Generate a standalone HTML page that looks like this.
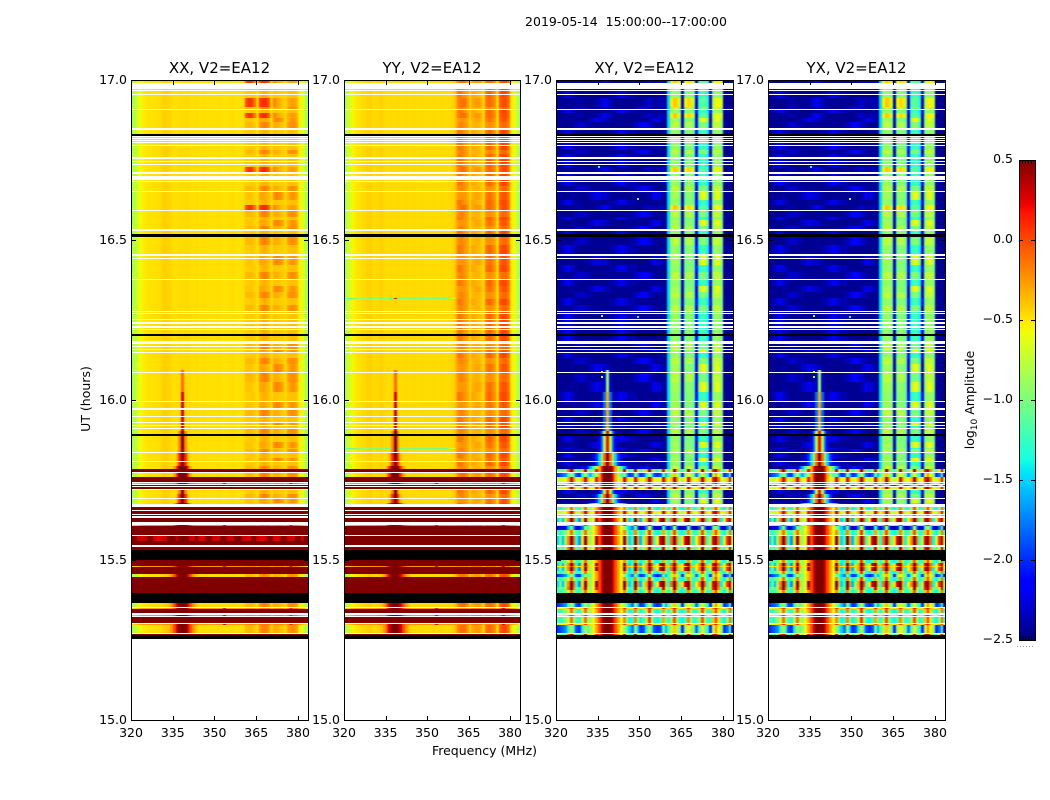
<!DOCTYPE html>
<html lang="en">
<head>
<meta charset="utf-8">
<title>2019-05-14 waterfall chart</title>
<style>
html,body{margin:0;padding:0;background:#fff;width:1050px;height:800px;overflow:hidden}
svg{display:block;font-family:"DejaVu Sans","Liberation Sans",sans-serif;fill:#000}
</style>
</head>
<body>
<svg id="chart" xmlns="http://www.w3.org/2000/svg" width="1050" height="800" viewBox="0 0 1050 800">
  <defs>
    <filter id="channel-smooth" filterUnits="userSpaceOnUse" x="100" y="60" width="900" height="680" color-interpolation-filters="sRGB">
      <feGaussianBlur stdDeviation="0.8 0"/>
    </filter>
  </defs>
  <rect x="0" y="0" width="1050" height="800" fill="#fff"/>
  <text x="626" y="26" font-size="12.500" text-anchor="middle" xml:space="preserve">2019-05-14  15:00:00--17:00:00</text>
  <g id="panels"></g>
  <text x="484.500" y="755" font-size="12.500" text-anchor="middle">Frequency (MHz)</text>
  <text transform="translate(90 399) rotate(-90)" font-size="12.500" text-anchor="middle">UT (hours)</text>
  <g id="colorbar"></g>
  <text transform="translate(974 400) rotate(-90)" font-size="12.500" text-anchor="middle">log<tspan font-size="9" dy="3">10</tspan><tspan dy="-3"> Amplitude</tspan></text>
  <line x1="1017" x2="1035" y1="646.500" y2="646.500" stroke="#999" stroke-width="1" stroke-dasharray="1 2"/>
</svg>
<script>
/* ---------- axis ticks ---------- */
const freqTicks = [320, 335, 350, 365, 380];
const hourTicks = [15.0, 15.5, 16.0, 16.5, 17.0];
const colorTicks = [0.5, 0.0, -0.5, -1.0, -1.5, -2.0, -2.5];
const panelTitles = ['XX, V2=EA12', 'YY, V2=EA12', 'XY, V2=EA12', 'YX, V2=EA12'];

/* ---------- frequency channels (MHz, start of channel) ---------- */
const channelMHz = [
320,321,322,323,324,325,326,327,
328,329,330,331,332,333,334,335,
336,337,338,339,340,341,342,343,
344,345,346,347,348,349,350,351,
352,353,354,355,356,357,358,359,
360,361,362,363,364,365,366,367,
368,369,370,371,372,373,374,375,
376,377,378,379,380,381,382,383];

/* ---------- log10 amplitude, channels 0-40 of parallel hands ---------- */
const xxLeft = [
-.85,-.75,-.65,-.58,-.52,-.5,-.49,-.49,
-.48,-.48,-.47,-.43,-.42,-.44,-.47,-.48,
-.48,-.47,-.47,-.46,-.46,-.47,-.48,-.47,
-.48,-.48,-.47,-.48,-.48,-.49,-.48,-.47,
-.48,-.49,-.48,-.48,-.47,-.48,-.49,-.48,
-.47];
const yyLeft = [
-.82,-.72,-.62,-.55,-.5,-.49,-.47,-.46,
-.44,-.43,-.46,-.47,-.45,-.43,-.46,-.47,
-.47,-.46,-.46,-.46,-.47,-.47,-.46,-.47,
-.47,-.46,-.47,-.47,-.46,-.47,-.47,-.47,
-.46,-.47,-.47,-.46,-.47,-.47,-.46,-.44,
-.36];
const yyGreenLeft = [
-1.1,-1.1,-1.05,-1,-.95,-1,-1,-.9,
-.95,-1,-1,-.95,-.9,-1,-1,-1.05,
-1,-.95,.2,-1,-1.05,-1,-.95,-1,
-1.1,-1,-1.05,-1.1,-1,-1.05,-1.1,-1,
-1.05,-1.1,-1,-1.05,-1.1,-1.05,-.7,-.6,
-.4];

/* channels 41-63 of parallel hands: four patterns of the RFI blocks */
const xxBlocksA = [0,.08,.05,-.12,-.42,.05,.1,.1,-.02,-.4,-.2,-.28,-.33,-.38,-.44,-.32,-.27,-.27,-.32,-.52,-.63,-.74,-.85];
const xxBlocksB = [-.36,-.36,-.36,-.4,-.47,-.24,-.18,-.18,-.24,-.44,-.32,-.32,-.36,-.4,-.46,-.26,-.22,-.22,-.26,-.52,-.63,-.74,-.85];
const xxBlocksC = [-.42,-.42,-.4,-.42,-.48,-.37,-.33,-.33,-.37,-.46,-.4,-.4,-.42,-.42,-.46,-.4,-.38,-.38,-.4,-.52,-.63,-.74,-.85];
const xxBlocksD = [-.4,-.4,-.4,-.44,-.47,-.3,-.3,-.33,-.36,-.45,-.22,-.18,-.22,-.28,-.46,-.33,-.24,-.24,-.3,-.52,-.63,-.74,-.85];
const yyBlocksA = [-.18,-.12,-.12,-.22,-.46,-.3,-.26,-.26,-.3,-.44,-.14,-.1,-.14,-.2,-.46,-.06,0,0,-.1,-.5,-.6,-.72,-.82];
const yyBlocksB = [-.22,-.18,-.24,-.28,-.46,-.36,-.34,-.34,-.38,-.46,-.24,-.22,-.24,-.28,-.46,-.14,-.1,-.1,-.18,-.5,-.6,-.72,-.82];
const yyBlocksC = [-.14,-.16,-.24,-.28,-.44,-.3,-.32,-.36,-.38,-.46,-.14,-.08,-.14,-.22,-.44,-.02,.02,0,-.1,-.5,-.6,-.72,-.82];
const yyBlocksD = [-.26,-.24,-.26,-.3,-.46,-.34,-.3,-.3,-.34,-.44,-.18,-.12,-.16,-.24,-.46,-.08,-.02,-.04,-.14,-.5,-.6,-.72,-.82];

/* saturated rows of the parallel hands */
const saturatedRow = [
.5,.5,.5,.5,.5,.5,.5,.5,
.5,.5,.5,.5,.5,.5,.5,.5,
.5,.5,.5,.5,.5,.5,.5,.5,
.5,.5,.5,.5,.5,.5,.5,.5,
.5,.5,.5,.5,.5,.5,.5,.5,
.5,.5,.5,.5,.5,.5,.5,.5,
.5,.5,.5,.5,.5,.5,.5,.5,
.5,.5,.5,.5,.5,.5,.5,.5];
const dashedRow = [
.5,.5,.3,.3,.3,.35,.5,.5,
.3,.25,.25,.3,.3,.5,.5,.5,
.3,.3,.5,.5,.5,.3,.3,.5,
.25,.25,.3,.5,.5,.3,.3,.25,
.5,.5,.35,.3,.3,.5,.5,.5,
.3,.3,.25,.5,.5,.3,.25,.25,
.3,.5,.5,.25,.25,.3,.5,.5,
.3,.3,.3,.5,.5,.3,.5,.5];
const orangeRow = [
-.45,-.4,-.35,-.3,-.25,-.25,-.25,-.25,
-.25,-.25,-.25,-.25,-.2,-.2,-.2,-.15,
-.1,.1,.5,.5,.1,-.1,-.15,-.2,
-.25,-.25,-.25,-.25,-.25,-.25,-.25,-.25,
-.25,.3,-.25,-.25,-.25,-.25,-.25,-.25,
-.25,-.2,-.2,-.2,-.2,-.3,-.15,-.15,
-.15,-.15,-.3,-.2,-.2,-.2,-.2,-.3,
-.15,.3,-.15,-.15,-.3,-.35,-.4,-.5];

/* channels 0-40 of cross hands: four patterns of faint streaks */
const crossLeftA = [
-2.45,-2.45,-2.45,-2.45,-2.45,-2.45,-2.45,-2.4,
-2.4,-2.4,-2.45,-2.45,-2.45,-2.45,-2.4,-2.35,
-2.25,-2.2,-2.25,-2.35,-2.4,-2.45,-2.45,-2.45,
-2.45,-2.45,-2.45,-2.45,-2.45,-2.45,-2.45,-2.4,
-2.35,-2.3,-2.35,-2.4,-2.4,-2.35,-2.35,-2.45,
-1.5];
const crossLeftB = [
-2.45,-2.45,-2.45,-2.45,-2.45,-2.45,-2.4,-2.35,
-2.3,-2.3,-2.35,-2.4,-2.4,-2.45,-2.45,-2.45,
-2.45,-2.45,-2.45,-2.45,-2.45,-2.45,-2.45,-2.45,
-2.45,-2.45,-2.45,-2.4,-2.35,-2.3,-2.2,-2.15,
-2.2,-2.3,-2.35,-2.4,-2.45,-2.45,-2.45,-2.45,
-1.5];
const crossLeftC = [
-2.45,-2.4,-2.35,-2.25,-2.2,-2.3,-2.35,-2.4,
-2.45,-2.45,-2.45,-2.45,-2.45,-2.45,-2.45,-2.45,
-2.45,-2.45,-2.45,-2.4,-2.4,-2.35,-2.25,-2.2,
-2.25,-2.3,-2.4,-2.35,-2.4,-2.45,-2.45,-2.45,
-2.45,-2.45,-2.45,-2.45,-2.45,-2.45,-2.45,-2.45,
-1.5];
const crossLeftD = [
-2.45,-2.45,-2.45,-2.45,-2.45,-2.4,-2.45,-2.45,
-2.45,-2.45,-2.45,-2.4,-2.35,-2.3,-2.2,-2.25,
-2.3,-2.3,-2.35,-2.4,-2.45,-2.45,-2.45,-2.45,
-2.45,-2.45,-2.45,-2.45,-2.45,-2.45,-2.45,-2.45,
-2.45,-2.4,-2.3,-2.2,-2.25,-2.3,-2.4,-2.45,
-1.5];

/* channels 41-63 of cross hands: RFI blocks */
const crossBlocksA = [-.55,-.4,-.45,-.7,-2.35,-.6,-.45,-.5,-.75,-2.3,-1.2,-1.1,-1.1,-1.3,-2.35,-.8,-.55,-.55,-.7,-2.45,-2.45,-2.45,-2.45];
const crossBlocksB = [-.85,-.75,-.75,-.9,-2.35,-.9,-.8,-.8,-.95,-2.2,-1.1,-.95,-.95,-1.2,-2.35,-.85,-.75,-.75,-.9,-2.45,-2.45,-2.45,-2.45];
const crossBlocksC = [-.95,-.9,-.9,-1,-2.3,-1.05,-.95,-.95,-1.05,-2.1,-1.35,-1.2,-1.2,-1.4,-2.2,-1,-.9,-.9,-1,-2.45,-2.45,-2.45,-2.45];
const crossBlocksD = [-.9,-.85,-.85,-.95,-2.35,-1,-.95,-.95,-1.05,-2.2,-.9,-.55,-.6,-.95,-2.35,-.9,-.6,-.6,-.9,-2.45,-2.45,-2.45,-2.45];

/* noisy cross-hand rows */
const crossNoisyR = [
-1.3,-1,-1.2,-.9,-.1,.45,-.2,-1.1,
-1.3,-.4,.4,-.5,-1.2,-.9,.2,-.6,
-1,-.7,-.4,-.4,-.7,-1,-1.2,-.9,
.35,-.6,-1.3,-1.1,.4,-.5,-1.2,-.9,
-.4,.5,-.3,-1.1,-1.3,-1,.3,-.6,
-1.1,-.6,.5,-.3,-1,-1.3,-.9,.4,
-.4,-1.2,-1,-.6,.45,-.5,-1.1,-.9,
.2,.5,-.2,-1,-1.2,-.5,.4,-.9];
const crossNoisyS = [
-.7,-.75,-.7,-.6,-.3,.3,-.2,-.7,
-.75,-.35,.3,-.3,-.7,-.6,.2,-.3,
-.6,-.5,-.3,-.3,-.5,-.6,-.7,-.5,
.3,-.3,-.7,-.65,.25,-.3,-.7,-.6,
-.3,.4,-.2,-.65,-.7,-.6,.3,-.3,
-.7,-.4,.4,-.2,-.7,-.75,-.6,.3,
-.3,-.7,-.6,-.35,.4,-.3,-.7,-.6,
.2,.45,-.1,-.6,-.75,-.4,.3,-.75];
const crossNoisyT = [
-1.8,-1.6,-1.9,-1.5,-1,-.5,-1.1,-1.8,
-1.9,-1.2,-.5,-1.2,-1.9,-1.7,-.7,-1.3,
-1.8,-1.5,-1.2,-1.2,-1.5,-1.8,-1.9,-1.6,
-.6,-1.3,-1.9,-1.8,-.6,-1.3,-1.9,-1.7,
-1.2,-.3,-1.1,-1.8,-1.9,-1.7,-.7,-1.3,
-1.8,-1.4,-.4,-1.2,-1.9,-2,-1.6,-.6,
-1.3,-1.9,-1.8,-1.4,-.4,-1.2,-1.8,-1.7,
-.8,-.2,-.9,-1.7,-1.9,-1.3,-.6,-1.9];
const crossNoisyU = [
-1.5,-1.1,-1.6,-.9,-.2,.5,-.1,-1.3,
-1.7,-.5,.5,-.4,-1.4,-1,.4,-.5,
-1.2,-1.6,-.5,-.4,-1.4,-1.1,-1.7,-.9,
.5,-.4,-1.5,-1.2,.5,-.3,-1.6,-.9,
-.3,.5,0,-1.2,-.6,.3,.5,-.4,
-1.3,-.1,.5,-.2,-1.1,-.5,.3,.5,
-.4,-1.4,-.6,-.2,.5,-.1,-1.2,-.8,
.3,.5,-.1,-1.4,-.7,.1,.5,-.5];
const crossNoisyV = [
-1.2,-1.3,-1.1,-1,-.7,-.1,-.8,-1.2,
-1.3,-.8,-.1,-.8,-1.3,-1.1,-.4,-.9,
-1.2,-1.3,-1,-1,-1.3,-1.2,-1.4,-1.2,
-.2,-.9,-1.4,-1.3,-.2,-.9,-1.4,-1.2,
-.8,.1,-.7,-1.3,-1.4,-1.2,-.3,-.9,
-1.3,-.9,0,-.8,-1.3,-1.4,-1.2,-.2,
-.8,-1.3,-1.2,-.9,0,-.7,-1.3,-1.2,
-.4,.1,-.5,-1.2,-1.4,-.9,-.1,-1.2];
const crossNoisyW = [
-2.3,-2.2,-2.3,-2.1,-1.6,-1,-1.7,-2.3,
-2.4,-1.8,-1,-1.8,-2.3,-2.2,-1.3,-1.9,
-2.2,-2,-1.7,-1.7,-2,-2.2,-2.4,-2.1,
-1.1,-1.9,-2.4,-2.3,-1.1,-1.9,-2.4,-2.2,
-1.7,-.6,-1.6,-2.3,-2.4,-2.2,-1.2,-1.9,
-2.3,-1.9,-.8,-1.8,-2.3,-2.4,-2.1,-1.1,
-1.9,-2.4,-2.3,-1.9,-.8,-1.8,-2.3,-2.2,
-1.2,-.5,-1.4,-2.2,-2.4,-1.8,-1.1,-2.3];
const crossNoisyH = [
-2,-1.9,-1.8,-1.7,-1.3,-.8,-1.3,-1.9,
-2,-1.4,-.8,-1.4,-2,-1.9,-1.1,-1.6,
-1.9,-1.7,-1.4,-1.4,-1.7,-1.9,-2,-1.8,
-1,-1.6,-2,-1.9,-1,-1.5,-2,-1.9,
-1.4,-.7,-1.4,-1.9,-2,-1.9,-1.1,-1.6,
-1.2,-.8,-.4,-.8,-1,-2,-.9,-.6,
-.8,-1,-1.8,-1.2,-.6,-1,-1.3,-2,
-.7,-.2,-.6,-.9,-2,-1.8,-1.1,-2.2];
const crossNoisyO = [
-.6,-.55,-.5,-.5,-.3,.1,-.3,-.5,
-.55,-.4,.1,-.35,-.5,-.5,-.1,-.4,
-.45,-.4,-.3,-.3,-.4,-.45,-.5,-.45,
.1,-.35,-.5,-.5,.1,-.35,-.5,-.5,
-.3,.2,-.25,-.5,-.55,-.5,.1,-.35,
-.5,-.3,.2,-.3,-.5,-.5,-.4,.1,
-.35,-.5,-.5,-.4,.2,-.3,-.5,-.5,
-.1,.25,-.3,-.5,-.55,-.35,.1,-.6];

/* named row spectra per panel family */
const spectraXX = {
  a:[...xxLeft,...xxBlocksA], b:[...xxLeft,...xxBlocksB], c:[...xxLeft,...xxBlocksC], d:[...xxLeft,...xxBlocksD],
  g:[...xxLeft,...xxBlocksC], h:[...xxLeft,...xxBlocksB],
  r:saturatedRow, s:saturatedRow, t:saturatedRow, u:saturatedRow, v:saturatedRow, w:saturatedRow, p:dashedRow, o:orangeRow
};
const spectraYY = {
  a:[...yyLeft,...yyBlocksA], b:[...yyLeft,...yyBlocksB], c:[...yyLeft,...yyBlocksC], d:[...yyLeft,...yyBlocksD],
  g:[...yyGreenLeft,...yyBlocksB], h:[...yyLeft,...yyBlocksA],
  r:saturatedRow, s:saturatedRow, t:saturatedRow, u:saturatedRow, v:saturatedRow, w:saturatedRow, p:saturatedRow, o:orangeRow
};
const spectraCross = {
  a:[...crossLeftA,...crossBlocksA], b:[...crossLeftB,...crossBlocksB], c:[...crossLeftC,...crossBlocksC], d:[...crossLeftD,...crossBlocksD],
  g:[...crossLeftC,...crossBlocksC],
  h:crossNoisyH, r:crossNoisyR, s:crossNoisyS, t:crossNoisyT, u:crossNoisyU, v:crossNoisyV, w:crossNoisyW, p:crossNoisyU, o:crossNoisyO
};

/* RFI core at channel 18: amplitude by distance in channels */
const parallelCore = {
  s1:[-.1], s2:[.3], s3:[.5,-.2], s4:[.5,.1,-.35], s5:[.5,.5,.1,-.3], s6:[.5,.5,.3,0,-.25,-.4]
};
const crossCore = {
  s1:[-.9,-2.3], s2:[-.3,-1.8], s3:[.2,-.8,-1.8,-2.2], s4:[.5,-.1,-.9,-1.5,-2,-2.3],
  s5:[.5,.5,.2,-.3,-.8,-1.2,-1.6,-2,-2.3], s6:[.5,.5,.3,0,-.3,-.6,-.9,-1.2,-1.5,-1.8,-2.1]
};

/* time bands: [start UT hour, row key, optional core key]; W = flagged blank, K = flagged black */
const timeBands = [
[17.000,'a'],[16.991,'W'],[16.972,'c'],[16.969,'W'],[16.966,'c'],[16.956,'W'],[16.953,'c'],[16.944,'a'],
[16.916,'b'],[16.909,'W'],[16.906,'c'],[16.897,'a'],[16.881,'d'],[16.869,'b'],[16.850,'W'],[16.844,'c'],
[16.831,'K'],[16.825,'W'],[16.822,'c'],[16.819,'W'],[16.816,'c'],[16.813,'W'],[16.809,'c'],[16.806,'W'],
[16.803,'c'],[16.797,'W'],[16.794,'c'],[16.781,'b'],[16.769,'c'],[16.759,'W'],[16.753,'c'],[16.747,'W'],
[16.744,'c'],[16.737,'W'],[16.734,'c'],[16.728,'a'],[16.713,'W'],[16.706,'c'],[16.700,'W'],[16.688,'c'],
[16.684,'W'],[16.681,'c'],[16.669,'b'],[16.653,'W'],[16.650,'d'],[16.625,'c'],[16.609,'a'],[16.594,'W'],
[16.591,'b'],[16.572,'c'],[16.563,'d'],[16.544,'b'],[16.534,'W'],[16.528,'c'],[16.519,'K'],[16.509,'b'],
[16.484,'c'],[16.456,'W'],[16.450,'d'],[16.444,'W'],[16.441,'d'],[16.422,'c'],[16.400,'b'],[16.378,'W'],
[16.375,'c'],[16.356,'d'],[16.338,'b'],[16.319,'g'],[16.316,'c'],[16.297,'b'],[16.278,'W'],[16.275,'c'],
[16.272,'W'],[16.269,'c'],[16.253,'W'],[16.250,'c'],[16.244,'W'],[16.238,'c'],[16.231,'W'],[16.225,'c'],
[16.222,'W'],[16.219,'c'],[16.206,'K'],[16.200,'c'],[16.184,'W'],[16.175,'b'],[16.169,'W'],[16.166,'b'],
[16.159,'W'],[16.156,'d'],[16.150,'W'],[16.147,'c'],[16.131,'b'],[16.113,'d'],[16.094,'d','s1'],[16.088,'W'],
[16.084,'b','s1'],[16.056,'d','s1'],[16.025,'c','s2'],[15.997,'W'],[15.994,'d','s2'],[15.975,'W'],[15.969,'b','s2'],
[15.950,'W'],[15.947,'c','s2'],[15.931,'W'],[15.928,'d','s2'],[15.922,'W'],[15.919,'c','s2'],[15.913,'W'],
[15.909,'b','s2'],[15.903,'b','s3'],[15.894,'K'],[15.888,'c','s3'],[15.869,'d','s3'],[15.850,'g','s3'],
[15.847,'b','s3'],[15.838,'W'],[15.834,'c','s4'],[15.819,'d','s4'],[15.809,'W'],[15.806,'c','s4'],[15.794,'b','s5'],
[15.784,'r','s5'],[15.775,'W'],[15.772,'h','s5'],[15.759,'s','s5'],[15.744,'W'],[15.741,'o','s5'],[15.738,'W'],
[15.734,'t','s5'],[15.731,'W'],[15.728,'s','s5'],[15.722,'W'],[15.719,'c','s3'],[15.706,'b','s4'],[15.694,'W'],
[15.691,'d','s4'],[15.678,'c','s5'],[15.675,'W'],[15.666,'v','s6'],[15.656,'W'],[15.653,'s','s6'],[15.644,'W'],
[15.641,'v','s6'],[15.638,'W'],[15.631,'u','s6'],[15.619,'W'],[15.609,'o','s6'],[15.606,'w','s6'],[15.594,'v','s6'],[15.578,'W'],
[15.575,'p','s6'],[15.559,'u','s6'],[15.547,'W'],[15.541,'r','s6'],[15.531,'K'],[15.500,'v','s6'],[15.491,'u','s6'],
[15.481,'o','s6'],[15.478,'u','s6'],[15.466,'v','s6'],[15.456,'h','s6'],[15.447,'v','s6'],[15.434,'u','s6'],[15.416,'r','s6'],[15.406,'v','s6'],
[15.397,'K'],[15.366,'h','s6'],[15.353,'W'],[15.350,'o','s6'],
[15.347,'v','s6'],[15.334,'W'],[15.328,'o','s6'],[15.325,'W'],[15.322,'v','s6'],[15.303,'W'],[15.300,'o','s6'],
[15.297,'h','s6'],[15.272,'W'],[15.269,'r','s6'],[15.266,'K']
];
const lastBandEndHour = [15.253];

/* isolated specks in cross hands: [UT hour, MHz, amplitude] */
const crossSpecks = [
[16.631,349,-1.0],[16.266,336,-.9],[16.091,336,-.6],[16.075,336,-.9],[16.264,349,-1.4],[16.731,335,-1.3]
];

/* ---------- layout ---------- */
const NS = 'http://www.w3.org/2000/svg';
const AX_TOP = 80, AX_H = 640, F0 = 320, F1 = 383.6, T0 = 15, T1 = 17;
const layout = [
  {left:131, width:177, spectra:spectraXX, core:parallelCore, specks:[]},
  {left:344, width:176, spectra:spectraYY, core:parallelCore, specks:[]},
  {left:556, width:177, spectra:spectraCross, core:crossCore, specks:crossSpecks},
  {left:768, width:177, spectra:spectraCross, core:crossCore, specks:crossSpecks}
];
const CB = {x:1019, y:160, w:16, h:480, vMin:-2.5, vMax:.5};

function xScale(p, f){ return p.left + (f - F0) / (F1 - F0) * p.width; }
function yScale(t){ return AX_TOP + (T1 - t) / (T1 - T0) * AX_H; }
function cbScale(v){ return CB.y + (CB.vMax - v) / (CB.vMax - CB.vMin) * CB.h; }

/* matplotlib jet */
function clamp(a){ return Math.max(0, Math.min(1, a)); }
const colorCache = {};
function jet(v){
  if (colorCache[v]) return colorCache[v];
  const x = clamp((v - CB.vMin) / (CB.vMax - CB.vMin));
  let r, g, b;
  r = x < .35 ? 0 : x < .66 ? (x - .35) / .31 : x < .89 ? 1 : 1 - .5 * (x - .89) / .11;
  g = x < .125 ? 0 : x < .375 ? (x - .125) / .25 : x < .64 ? 1 : x < .91 ? 1 - (x - .64) / .27 : 0;
  b = x < .11 ? .5 + .5 * x / .11 : x < .34 ? 1 : x < .65 ? 1 - (x - .34) / .31 : 0;
  const c = 'rgb(' + Math.round(clamp(r) * 255) + ',' + Math.round(clamp(g) * 255) + ',' + Math.round(clamp(b) * 255) + ')';
  colorCache[v] = c;
  return c;
}

function rectEl(x, y, w, h, fill){
  const el = document.createElementNS(NS, 'rect');
  el.setAttribute('x', x);
  el.setAttribute('y', y);
  el.setAttribute('width', w);
  el.setAttribute('height', h);
  el.setAttribute('fill', fill);
  el.setAttribute('shape-rendering', 'crispEdges');
  return el;
}
function lineEl(x1, y1, x2, y2){
  const el = document.createElementNS(NS, 'line');
  el.setAttribute('x1', x1);
  el.setAttribute('y1', y1);
  el.setAttribute('x2', x2);
  el.setAttribute('y2', y2);
  el.setAttribute('stroke', '#000');
  el.setAttribute('stroke-width', 1);
  el.setAttribute('shape-rendering', 'crispEdges');
  return el;
}
function textEl(x, y, s, size, anchor){
  const el = document.createElementNS(NS, 'text');
  el.setAttribute('x', x);
  el.setAttribute('y', y);
  el.setAttribute('font-size', size);
  el.setAttribute('text-anchor', anchor);
  el.textContent = s;
  return el;
}
function tickText(v, digits){
  const s = Math.abs(v).toFixed(digits);
  return v < 0 ? '\u2212' + s : s;
}

const panelsRoot = document.getElementById('panels');

layout.forEach(function(p, idx){
  const g = document.createElementNS(NS, 'g');
  
  

  const clipId = 'clip' + idx;
  const defs = document.createElementNS(NS, 'defs');
  const clip = document.createElementNS(NS, 'clipPath');
  clip.setAttribute('id', clipId);
  clip.appendChild(rectEl(p.left, AX_TOP, p.width, AX_H, '#000'));
  defs.appendChild(clip);
  g.appendChild(defs);

  const clipper = document.createElementNS(NS, 'g');
  clipper.setAttribute('clip-path', 'url(#' + clipId + ')');
  
  

  const cells = document.createElementNS(NS, 'g');
  cells.setAttribute('filter', 'url(#channel-smooth)');
  
  

  timeBands.forEach(function(band, b){
    const end = b + 1 < timeBands.length ? timeBands[b + 1][0] : lastBandEndHour[0];
    const y0 = Math.round(yScale(band[0]));
    const y1 = Math.round(yScale(end));
    const h = y1 - y0;
    if (h <= 0) return;
    const key = band[1];
    if (key === 'W') return;
    if (key === 'K') {
      const blk = rectEl(p.left - 4, y0, p.width + 8, h, '#000');
      
      
      cells.appendChild(blk);
      return;
    }
    const row = p.spectra[key];
    const core = band[2] ? p.core[band[2]] : null;
    channelMHz.forEach(function(f, i){
      let v = row[i];
      const dist = Math.abs(i - 18);
      if (core && dist < core.length) v = Math.max(v, core[dist]);
      let x0 = Math.round(xScale(p, f));
      let x1 = Math.round(xScale(p, f + 1));
      if (i === 0) x0 -= 4;
      if (i === channelMHz.length - 1) x1 += 4;
      const cell = rectEl(x0, y0, x1 - x0, h, jet(v));
      
      
      cells.appendChild(cell);
    });
  });
  clipper.appendChild(cells);

  p.specks.forEach(function(s){
    const sp = rectEl(Math.round(xScale(p, s[1])), Math.round(yScale(s[0])), 2, 2, jet(s[2]));
    
    
    clipper.appendChild(sp);
  });
  g.appendChild(clipper);

  /* frame */
  const frame = rectEl(p.left + .5, AX_TOP + .5, p.width, AX_H, 'none');
  frame.setAttribute('stroke', '#000');
  frame.setAttribute('stroke-width', 1);
  
  
  g.appendChild(frame);

  /* x ticks */
  freqTicks.forEach(function(f){
    const x = Math.round(xScale(p, f)) + .5;
    const t1 = lineEl(x, AX_TOP + AX_H, x, AX_TOP + AX_H - 4);
    
    
    g.appendChild(t1);
    const t2 = lineEl(x, AX_TOP, x, AX_TOP + 5);
    
    
    g.appendChild(t2);
    const lab = textEl(xScale(p, f), AX_TOP + AX_H + 17, String(f), 12.5, 'middle');
    
    
    g.appendChild(lab);
  });

  /* y ticks */
  hourTicks.forEach(function(t){
    const y = Math.round(yScale(t)) + .5;
    const t1 = lineEl(p.left, y, p.left + 5, y);
    
    
    g.appendChild(t1);
    const t2 = lineEl(p.left + p.width, y, p.left + p.width - 4, y);
    
    
    g.appendChild(t2);
    const lab = textEl(p.left - 4, yScale(t) + 4, t.toFixed(1), 12.5, 'end');
    
    
    g.appendChild(lab);
  });

  /* title */
  const title = textEl(p.left + p.width / 2, 73, panelTitles[idx], 15, 'middle');
  
  
  g.appendChild(title);

  panelsRoot.appendChild(g);
});

/* ---------- colorbar ---------- */
const cbRoot = document.getElementById('colorbar');
for (let py = 0; py < CB.h; py += 2) {
  const v = CB.vMax - (py + 1) / CB.h * (CB.vMax - CB.vMin);
  const seg = rectEl(CB.x, CB.y + py, CB.w, 2, jet(v));
  
  
  cbRoot.appendChild(seg);
}
const cbFrame = rectEl(CB.x + .5, CB.y + .5, CB.w, CB.h, 'none');
cbFrame.setAttribute('stroke', '#000');
cbFrame.setAttribute('stroke-width', 1);


cbRoot.appendChild(cbFrame);

colorTicks.forEach(function(v){
  const y = Math.round(cbScale(v));
  const lab = textEl(CB.x - 6, y + 3, tickText(v, 1), 12.5, 'end');
  
  
  cbRoot.appendChild(lab);
  if (v === CB.vMax || v === CB.vMin) {
    const y0 = v === CB.vMax ? CB.y : CB.y + CB.h - 4;
    [3, 6, 9, 12].forEach(function(dx){
      const tk = lineEl(CB.x + dx + .5, y0, CB.x + dx + .5, y0 + 4);
      
      
      cbRoot.appendChild(tk);
    });
  } else {
    const a = lineEl(CB.x, y + .5, CB.x + 4, y + .5);
    
    
    cbRoot.appendChild(a);
    const b = lineEl(CB.x + CB.w - 4, y + .5, CB.x + CB.w, y + .5);
    
    
    cbRoot.appendChild(b);
  }
});
</script>
</body>
</html>
